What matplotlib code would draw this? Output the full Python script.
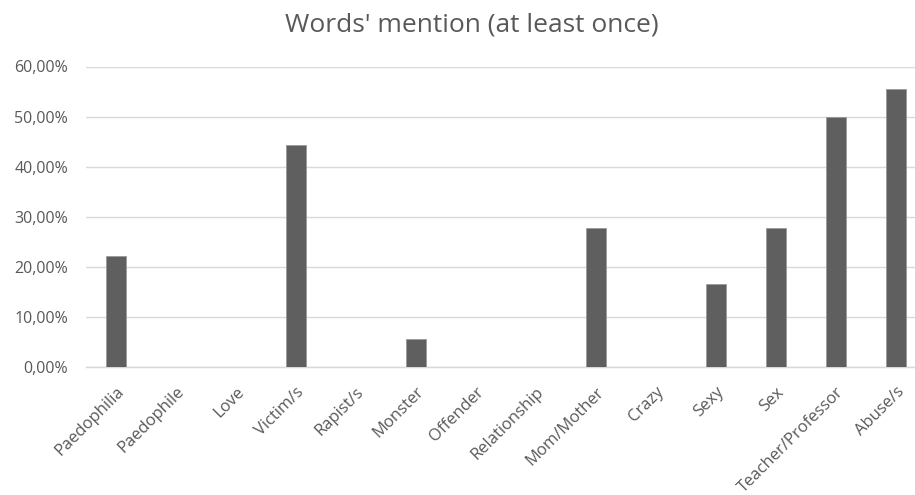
import numpy as np
import matplotlib.pyplot as plt
from matplotlib.ticker import FuncFormatter

plt.rcParams.update({
    "font.family": ["Open Sans", "DejaVu Sans"],
    "figure.dpi": 100,
})

# ── data ──────────────────────────────────────────────────────────────────────
words = [
    "Paedophilia", "Paedophile", "Love", "Victim/s", "Rapist/s", "Monster",
    "Offender", "Relationship", "Mom/Mother", "Crazy", "Sexy", "Sex",
    "Teacher/Professor", "Abuse/s",
]
share = [
    22.22, 0.0, 0.0, 44.44, 0.0, 5.56,
    0.0, 0.0, 27.78, 0.0, 16.67, 27.78,
    50.00, 55.56,
]
y_ticks = [0, 10, 20, 30, 40, 50, 60]

TEXT = "#595959"
GRID = "#d9d9d9"
BAR = "#5f5f5f"

fig = plt.figure(figsize=(9.15, 4.95))
# plot area runs a little past the right edge of the canvas
ax = fig.add_axes([86 / 915, 1 - 367.3 / 495, 840 / 915, 300.8 / 495])

x = np.arange(len(words))
ax.bar(x, share, width=0.32, color=BAR, edgecolor="#9a9a9a", linewidth=0.6,
       zorder=3)

ax.set_xlim(-0.5, len(words) - 0.5)
ax.set_ylim(0, 60)
ax.set_yticks(y_ticks)
ax.yaxis.set_major_formatter(
    FuncFormatter(lambda v, _: f"{v:.2f}".replace(".", ",") + "%"))
ax.grid(axis="y", color=GRID, linewidth=1.0, zorder=0)
ax.tick_params(axis="y", length=0, pad=13, labelsize=11.5, labelcolor=TEXT)
ax.tick_params(axis="x", length=0, pad=12)

ax.set_xticks(x)
ax.set_xticklabels(words, rotation=45, ha="right", va="top",
                   rotation_mode="anchor", fontsize=12, color=TEXT)

for side in ("left", "right", "top"):
    ax.spines[side].set_visible(False)
ax.spines["bottom"].set_color(GRID)
ax.spines["bottom"].set_linewidth(1.0)

fig.text(472 / 915, 1 - 25 / 495, "Words' mention (at least once)",
         ha="center", va="center", fontsize=19, color=TEXT)

fig.savefig("out.png", dpi=100)
